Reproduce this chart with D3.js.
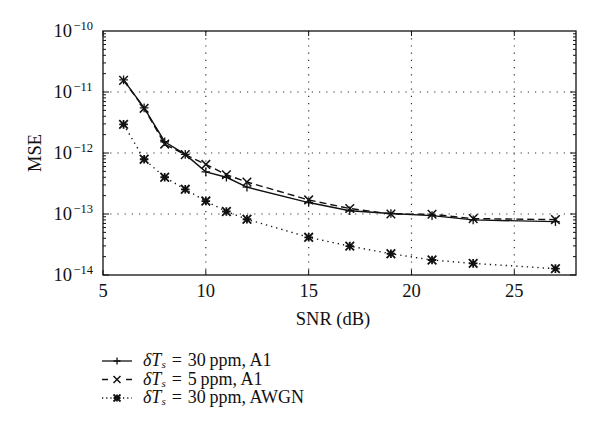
<!DOCTYPE html>
<html><head><meta charset="utf-8">
<script src="https://cdn.jsdelivr.net/npm/d3@7"></script>
<style>body{margin:0;background:#fff}svg{display:block}</style>
</head><body><svg id="c" width="600" height="443" font-family="'Liberation Serif', 'Times New Roman', Times, serif" fill="#111"></svg>
<script>
const snr = [6,7,8,9,10,11,12,15,17,19,21,23,27];
const mse30A1 = [1.58e-11,5.5e-12,1.53e-12,9.5e-13,4.9e-13,4.0e-13,2.75e-13,1.54e-13,1.13e-13,1.02e-13,9.4e-14,8.0e-14,7.5e-14];
const mse5A1 = [1.55e-11,5.4e-12,1.4e-12,9.4e-13,6.5e-13,4.4e-13,3.35e-13,1.7e-13,1.23e-13,1.0e-13,9.9e-14,8.4e-14,8.1e-14];
const mse30AWGN = [2.95e-12,7.9e-13,4.0e-13,2.54e-13,1.63e-13,1.1e-13,8.2e-14,4.15e-14,2.97e-14,2.23e-14,1.76e-14,1.55e-14,1.27e-14];
const xTicks = [5,10,15,20,25];
const yTicks = [-10,-11,-12,-13,-14];
const legendLabels = ["30\u2009ppm, A1","5\u2009ppm, A1","30\u2009ppm, AWGN"];

const svg = d3.select("#c");
const L=103,R=576,T=31,B=275;
const x = d3.scaleLinear().domain([5,28]).range([L,R]);
const y = d3.scaleLog().domain([1e-14,1e-10]).range([B,T]);

const g = svg.append("g");
xTicks.slice(1).forEach(v=>g.append("line").attr("x1",x(v)).attr("x2",x(v)).attr("y1",T).attr("y2",B)
  .attr("stroke","#333").attr("stroke-width",1.2).attr("stroke-dasharray","1.2,6"));
yTicks.slice(1,4).forEach(e=>g.append("line").attr("x1",L).attr("x2",R).attr("y1",y(Math.pow(10,e))).attr("y2",y(Math.pow(10,e)))
  .attr("stroke","#333").attr("stroke-width",1.2).attr("stroke-dasharray","1.2,6"));

const ax = svg.append("g");
ax.append("rect").attr("x",L).attr("y",T).attr("width",R-L).attr("height",B-T).attr("fill","none").attr("stroke","#111").attr("stroke-width",1.3);
xTicks.forEach(v=>{
  ax.append("line").attr("x1",x(v)).attr("x2",x(v)).attr("y1",B).attr("y2",B-5).attr("stroke","#111");
  ax.append("line").attr("x1",x(v)).attr("x2",x(v)).attr("y1",T).attr("y2",T+5).attr("stroke","#111");
  ax.append("text").attr("x",x(v)).attr("y",297).attr("text-anchor","middle").attr("font-size",18.5).text(v);
});
for(let e=-14;e<-10;e++){
  for(let m=1;m<10;m++){
    const v=m*Math.pow(10,e); const len = m===1?6:3;
    ax.append("line").attr("x1",L).attr("x2",L+len).attr("y1",y(v)).attr("y2",y(v)).attr("stroke","#111");
    ax.append("line").attr("x1",R).attr("x2",R-len).attr("y1",y(v)).attr("y2",y(v)).attr("stroke","#111");
  }
}
yTicks.forEach(e=>{
  const yy = y(Math.pow(10,e));
  ax.append("text").attr("x",72).attr("y",yy+6).attr("text-anchor","end").attr("font-size",18.5).text("10");
  ax.append("text").attr("x",73.5).attr("y",yy-1).attr("font-size",12.5).text("\u2212"+Math.abs(e));
});
svg.append("text").attr("transform",`translate(41,${(T+B)/2}) rotate(-90)`).attr("text-anchor","middle").attr("font-size",18.5).text("MSE");
svg.append("text").attr("x",333).attr("y",325).attr("text-anchor","middle").attr("font-size",18.5).text("SNR (dB)");

function plus(sel,cx,cy,s){sel.append("path").attr("d",`M${cx-s},${cy}H${cx+s}M${cx},${cy-s}V${cy+s}`).attr("stroke","#111").attr("stroke-width",1.3);}
function cross(sel,cx,cy,s){sel.append("path").attr("d",`M${cx-s},${cy-s}L${cx+s},${cy+s}M${cx-s},${cy+s}L${cx+s},${cy-s}`).attr("stroke","#111").attr("stroke-width",1.5);}
function star(sel,cx,cy,s){sel.append("path").attr("d",`M${cx-s},${cy-s}L${cx+s},${cy+s}M${cx-s},${cy+s}L${cx+s},${cy-s}M${cx-s},${cy}H${cx+s}M${cx},${cy-s}V${cy+s}`).attr("stroke","#111").attr("stroke-width",1.8);}

const series = [
  {vals:mse30A1, dash:null, mk:plus, ldash:null},
  {vals:mse5A1, dash:"7,4", mk:cross, ldash:"6,18"},
  {vals:mse30AWGN, dash:"1.3,4", mk:star, ldash:"1.2,3"}
];
const line = d3.line().x(d=>x(d[0])).y(d=>y(d[1]));
series.forEach(s=>{
  const pts = snr.map((v,i)=>[v,s.vals[i]]);
  svg.append("path").attr("d",line(pts)).attr("fill","none").attr("stroke","#111").attr("stroke-width",1.4)
    .attr("stroke-dasharray",s.dash);
  const mg = svg.append("g");
  pts.forEach(p=>s.mk(mg,x(p[0]),y(p[1]),4.3));
});

const lg = svg.append("g");
series.forEach((s,i)=>{
  const yy = 361 + i*18.5;
  lg.append("line").attr("x1",102).attr("x2",132).attr("y1",yy).attr("y2",yy).attr("stroke","#111").attr("stroke-width",1.3).attr("stroke-dasharray",s.ldash);
  s.mk(lg,117,yy,3.5);
  const t1 = lg.append("text").attr("x",143).attr("y",yy+5).attr("font-size",18).attr("font-style","italic").text("\u03B4T");
  const w1 = t1.node().getComputedTextLength();
  const t2 = lg.append("text").attr("x",143+w1).attr("y",yy+7).attr("font-size",11).attr("font-style","italic").text("s");
  const w2 = t2.node().getComputedTextLength();
  const t3 = lg.append("text").attr("x",143+w1+w2+6).attr("y",yy+5).attr("font-size",18).text("=");
  const w3 = t3.node().getComputedTextLength();
  lg.append("text").attr("x",143+w1+w2+6+w3+6).attr("y",yy+5).attr("font-size",18).text(legendLabels[i]);
});
</script></body></html>
